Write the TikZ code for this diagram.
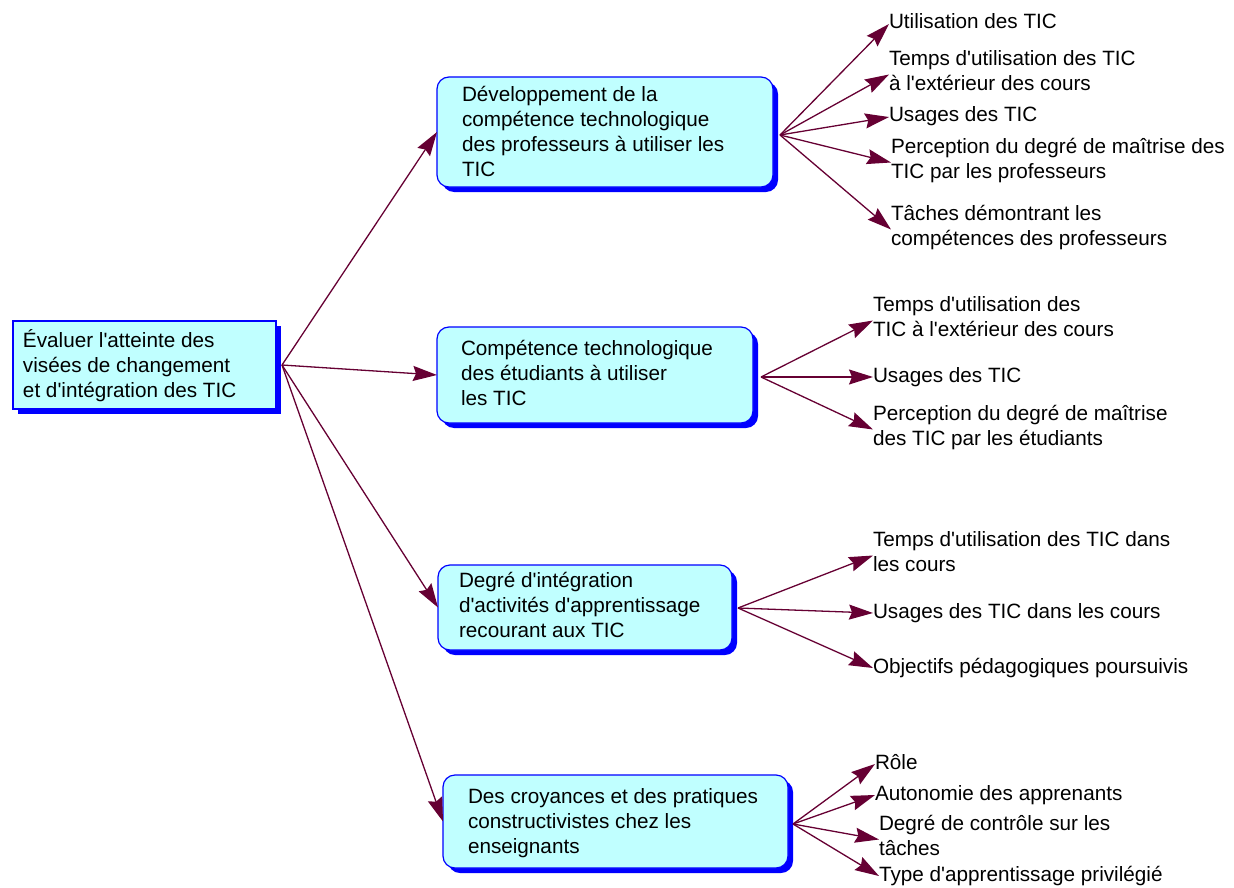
\documentclass[tikz,border=0pt]{standalone}
\usepackage{fontspec}
\setmainfont{Liberation Sans}[Ligatures=TeXOff]
\usetikzlibrary{arrows.meta,shadows}
\definecolor{boxfill}{RGB}{192,255,255}
\definecolor{boxline}{RGB}{0,0,255}
\definecolor{arrowcol}{RGB}{102,0,51}
\begin{document}
\begin{tikzpicture}[x=1pt,y=-1pt,
  every node/.style={inner sep=0pt, outer sep=0pt},
  txt/.style={anchor=west, align=left, text=black,
    font=\fontsize{20.7}{25}\selectfont,
    execute at begin node=\strut, execute at end node=\strut},
  boxshape/.style={draw=boxline, fill=boxfill, line width=1.2pt,
    drop shadow={shadow xshift=5pt, shadow yshift=-5pt, fill=boxline, draw=none, opacity=1}},
  rootbox/.style={boxshape, rectangle},
  roundbox/.style={boxshape, rectangle, rounded corners=12pt},
  conn/.style={draw=arrowcol, line width=1.3pt,
    arrows={-Stealth[length=24pt, width=15pt, inset=3pt, fill=arrowcol]}}
]
\useasboundingbox (0,0) rectangle (1234,888);

% boxes
\node[rootbox, minimum width=263pt, minimum height=88pt] (root) at (144.5,365) {};
\node[roundbox, minimum width=336pt, minimum height=110pt] (b1) at (605,132) {};
\node[roundbox, minimum width=316pt, minimum height=96pt] (b2) at (595,375) {};
\node[roundbox, minimum width=294pt, minimum height=85pt] (b3) at (585,607.5) {};
\node[roundbox, minimum width=345pt, minimum height=93pt] (b4) at (615.5,821.5) {};

% box texts
\node[txt] (troot) at (23,367) {Évaluer l'atteinte des\\visées de changement\\et d'intégration des TIC};
\node[txt] (tb1) at (462,135.5) {Développement de la\\compétence technologique\\des professeurs à utiliser les\\TIC};
\node[txt] (tb2) at (461,377) {Compétence technologique\\des étudiants à utiliser\\les TIC};
\node[txt] (tb3) at (459,609) {Degré d'intégration\\d'activités d'apprentissage\\recourant aux TIC};
\node[txt] (tb4) at (468,825) {Des croyances et des pratiques\\constructivistes chez les\\enseignants};

% children of b1
\node[txt] (c11) at (889,24) {Utilisation des TIC};
\node[txt] (c12) at (889,74.5) {Temps d'utilisation des TIC\\à l'extérieur des cours};
\node[txt] (c13) at (889,117) {Usages des TIC};
\node[txt] (c14) at (891,162.5) {Perception du degré de maîtrise des\\TIC par les professeurs};
\node[txt] (c15) at (891,229.5) {Tâches démontrant les\\compétences des professeurs};

% children of b2
\node[txt] (c21) at (873,320.5) {Temps d'utilisation des\\TIC à l'extérieur des cours};
\node[txt] (c22) at (873,377) {Usages des TIC};
\node[txt] (c23) at (873,429.5) {Perception du degré de maîtrise\\des TIC par les étudiants};

% children of b3
\node[txt] (c31) at (873,555.5) {Temps d'utilisation des TIC dans\\les cours};
\node[txt] (c32) at (873,613) {Usages des TIC dans les cours};
\node[txt] (c33) at (873,668) {Objectifs pédagogiques poursuivis};

% children of b4
\node[txt] (c41) at (875,764) {Rôle};
\node[txt] (c42) at (875,795) {Autonomie des apprenants};
\node[txt] (c43) at (879,839.5) {Degré de contrôle sur les\\tâches};
\node[txt] (c44) at (879,876) {Type d'apprentissage privilégié};

% connector origins (shadow edges)
\coordinate (o0) at (282,365);
\coordinate (o1) at (780,135);
\coordinate (o2) at (761,377);
\coordinate (o3) at (738,608);
\coordinate (o4) at (793,824);

% connectors
\draw[conn] (o0) -- (b1.west);
\draw[conn] (o0) -- (b2.west);
\draw[conn] (o0) -- (b3.west);
\draw[conn] (o0) -- (b4.west);

\foreach \c in {c11,c12,c13,c14,c15} \draw[conn] (o1) -- (\c.west);
\foreach \c in {c21,c22,c23} \draw[conn] (o2) -- (\c.west);
\foreach \c in {c31,c32,c33} \draw[conn] (o3) -- (\c.west);
\foreach \c in {c41,c42,c43,c44} \draw[conn] (o4) -- (\c.west);
\end{tikzpicture}
\end{document}
